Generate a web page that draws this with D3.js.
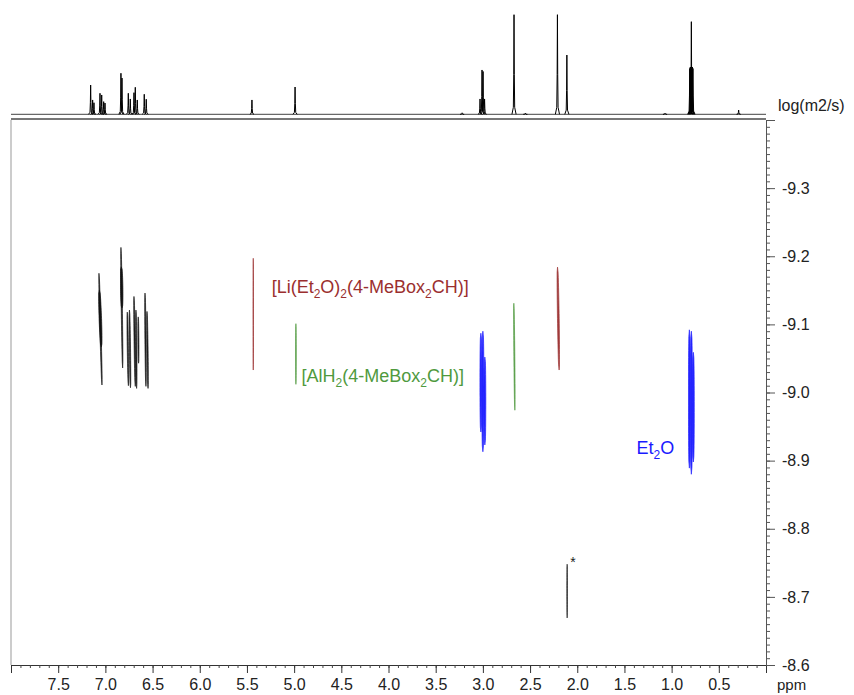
<!DOCTYPE html>
<html><head><meta charset="utf-8">
<script src="https://cdn.jsdelivr.net/npm/d3@7"></script>
<style>
body{margin:0;background:#fff}
text{font-family:"Liberation Sans",Arial,Helvetica,sans-serif}
</style>
</head><body>
<svg id="c" width="854" height="695"></svg>
<script>
// ---------- data ----------
const xTickValues = [7.5,7.0,6.5,6.0,5.5,5.0,4.5,4.0,3.5,3.0,2.5,2.0,1.5,1.0,0.5];
const xTickLabels = ["7.5","7.0","6.5","6.0","5.5","5.0","4.5","4.0","3.5","3.0","2.5","2.0","1.5","1.0","0.5"];
const yTickValues = [-9.3,-9.2,-9.1,-9.0,-8.9,-8.8,-8.7,-8.6];
const yTickLabels = ["-9.3","-9.2","-9.1","-9.0","-8.9","-8.8","-8.7","-8.6"];

// 1D projection peaks (ppm, relative intensity %)
const peakPpm    = [7.156,7.135,7.121,7.057,7.039,7.018,7.004,6.835,6.824,6.757,6.736,6.697,6.683,6.662,6.588,6.567,
                    5.447,4.990,3.220,3.030,3.009,2.998,2.982,2.670,2.550,2.210,2.110,1.070,
                    0.808,0.802,0.797,0.791,0.785,0.780,0.774,0.290];
const peakHeight = [29.4,14.4,11.6,21.1,19.4,12.7,11.3,41.2,36.4,21.1,15.4,21.7,27.1,14.4,20.1,15.1,
                    14.4,27.4,1.5,15.4,44.5,43.0,15.4,100,1.2,100,59.5,1.2,
                    46.0,47.5,47.0,93.0,47.0,47.5,46.0,4.3];

// 2D DOSY contours: species, ppm at top/bottom, logD at top/bottom, half-width (ppm)
const contourSpecies = ["arom","arom","arom","arom","arom","arom","arom","arom","arom","arom","arom",
                        "li","al","et2o","et2o","et2o","al","li","et2o","et2o","et2o","star"];
const contourPpm0 = [7.068,7.064,6.835,6.831,6.768,6.745,6.697,6.676,6.652,6.580,6.559,
                     5.433,4.981,3.021,3.000,2.979,2.672,2.209,0.812,0.791,0.770,2.107];
const contourPpm1 = [7.036,7.043,6.817,6.824,6.756,6.734,6.683,6.669,6.648,6.570,6.548,
                     5.433,4.981,3.021,3.000,2.979,2.661,2.192,0.812,0.791,0.770,2.107];
const contourD0 = [-9.175,-9.150,-9.213,-9.184,-9.118,-9.121,-9.141,-9.121,-9.111,-9.146,-9.119,
                   -9.197,-9.101,-9.087,-9.090,-9.052,-9.131,-9.184,-9.092,-9.090,-9.059,-8.748];
const contourD1 = [-9.011,-9.067,-9.036,-9.124,-9.010,-9.007,-9.009,-9.006,-9.043,-9.009,-9.006,
                   -9.033,-9.012,-8.942,-8.913,-8.923,-8.974,-9.033,-8.889,-8.880,-8.898,-8.669];
const contourHalfWidth = [0.006,0.013,0.006,0.013,0.006,0.006,0.006,0.006,0.005,0.006,0.006,
                          0.003,0.004,0.010,0.011,0.010,0.005,0.009,0.010,0.011,0.010,0.004];

const speciesColor = {arom:"#111111", li:"#9b2f2f", al:"#4f9a3e", et2o:"#1a1aff", star:"#222222"};

// labels
const labelSpecies = ["li","al","et2o"];
const labelPpm = [5.238,4.921,1.372];
const labelD = [-9.146,-9.016,-8.910];

// ---------- drawing ----------
const svg = d3.select("#c");
const x = d3.scaleLinear().domain([8.0,0.0]).range([11,766]);
const y = d3.scaleLinear().domain([-9.4,-8.6]).range([120,665]);
const yP = d3.scaleLinear().domain([0,100]).range([114.3,14.7]);

// 1D baseline
svg.append("path")
  .attr("d", d3.line().x(d=>x(d[0])).y(d=>yP(d[1]))([[8.0,0],[0.0,0]]))
  .attr("stroke","#444").attr("stroke-width",1).attr("fill","none");

// 1D peaks
const peakLine = d3.line().x(d=>x(d[0])).y(d=>yP(d[1]));
peakPpm.forEach((p,i)=>{
  const h = peakHeight[i];
  const pts = [[p+0.022,0],[p+0.007,h*0.07],[p+0.003,h*0.4],[p,h],[p-0.003,h*0.4],[p-0.007,h*0.07],[p-0.022,0]];
  svg.append("path").attr("d",peakLine(pts))
    .attr("stroke","#000").attr("stroke-width",1).attr("fill","none");
});

// frame: top border and left border
svg.append("line").attr("x1",x(8.0)).attr("x2",x(0.0)).attr("y1",y(-9.4)-1).attr("y2",y(-9.4)-1)
  .attr("stroke","#777").attr("stroke-width",2);
svg.append("line").attr("x1",x(8.0)).attr("x2",x(8.0)).attr("y1",y(-9.4)).attr("y2",y(-8.6))
  .attr("stroke","#999").attr("stroke-width",1);

// bottom axis
const minorX = d3.range(0,81).map(i=>i/10);
const gx = svg.append("g").attr("transform",`translate(0,${y(-8.6)})`);
gx.call(d3.axisBottom(x).tickValues(minorX).tickSize(3).tickFormat(""));
gx.selectAll(".tick line").attr("stroke","#444");
gx.select(".domain").attr("stroke","#333");
const gxMaj = svg.append("g").attr("transform",`translate(0,${y(-8.6)})`);
gxMaj.call(d3.axisBottom(x).tickValues([8.0].concat(xTickValues,[0.0])).tickSize(8).tickPadding(6)
  .tickFormat(v=>{const k=xTickValues.indexOf(v);return k>=0?xTickLabels[k]:"";}));
gxMaj.select(".domain").remove();
gxMaj.selectAll(".tick line").attr("stroke","#333");
gxMaj.selectAll("text").attr("font-size",16).attr("fill","#222")
  .attr("font-family","'Liberation Sans',Arial,sans-serif");

// right axis
const minorY = d3.range(0,81).map(i=>-9.4+i/100);
const gy = svg.append("g").attr("transform",`translate(${x(0.0)},0)`);
gy.call(d3.axisRight(y).tickValues(minorY).tickSize(4).tickFormat(""));
gy.select(".domain").attr("stroke","#555");
gy.selectAll(".tick line").attr("stroke","#555");
const gyMaj = svg.append("g").attr("transform",`translate(${x(0.0)},0)`);
gyMaj.call(d3.axisRight(y).tickValues([-9.4].concat(yTickValues)).tickSize(9).tickPadding(7)
  .tickFormat(v=>{const k=yTickValues.findIndex(t=>Math.abs(t-v)<1e-9);return k>=0?yTickLabels[k]:"";}));
gyMaj.select(".domain").remove();
gyMaj.selectAll(".tick line").attr("stroke","#555");
gyMaj.selectAll("text").attr("font-size",16).attr("fill","#222")
  .attr("font-family","'Liberation Sans',Arial,sans-serif");

// axis titles
svg.append("text").attr("x",x(0.0)+12).attr("y",yP(0)-3).attr("font-size",16).attr("fill","#222").text("log(m2/s)");
svg.append("text").attr("x",x(0.0)+11).attr("y",y(-8.6)+25).attr("font-size",15).attr("fill","#222").text("ppm");

// contours (narrow lens shapes)
const ts = d3.range(0,21).map(i=>i/20);
const shape = t=>Math.pow(Math.sin(Math.PI*t),0.3);
contourSpecies.forEach((s,i)=>{
  const p0=contourPpm0[i], p1=contourPpm1[i], d0=contourD0[i], d1=contourD1[i], hw=contourHalfWidth[i];
  const left = ts.map(t=>[p0+(p1-p0)*t + hw*shape(t), d0+(d1-d0)*t]);
  const right = ts.slice().reverse().map(t=>[p0+(p1-p0)*t - hw*shape(t), d0+(d1-d0)*t]);
  const line = d3.line().x(d=>x(d[0])).y(d=>y(d[1]));
  svg.append("path").attr("d",line(left.concat(right))+"Z")
    .attr("fill",speciesColor[s]).attr("stroke",speciesColor[s]).attr("stroke-width",0.7)
    .attr("stroke-linejoin","round").attr("opacity",0.95);
});

// labels with subscripts
const labelParts = {
  li:[["[Li(Et",0],["2",1],["O)",0],["2",1],["(4-MeBox",0],["2",1],["CH)]",0]],
  al:[["[AlH",0],["2",1],["(4-MeBox",0],["2",1],["CH)]",0]],
  et2o:[["Et",0],["2",1],["O",0]]
};
labelSpecies.forEach((s,i)=>{
  const t = svg.append("text").attr("x",x(labelPpm[i])).attr("y",y(labelD[i]))
    .attr("font-size",18).attr("fill",speciesColor[s]);
  let cur = 0;
  labelParts[s].forEach(([str,isSub])=>{
    const target = isSub?5:0;
    t.append("tspan").attr("dy",target-cur).attr("font-size",isSub?12:18).text(str);
    cur = target;
  });
});
svg.append("text").attr("x",x(2.046)).attr("y",y(-8.753)+6).attr("text-anchor","middle")
  .attr("font-size",14).attr("fill","#222").text("*");
</script>
</body></html>
